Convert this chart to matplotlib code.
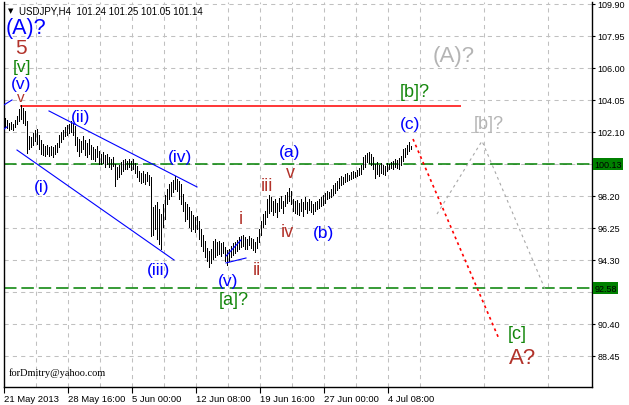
import matplotlib
matplotlib.use("Agg")
import matplotlib.pyplot as plt
import matplotlib.transforms as mtransforms

plt.rcParams['font.family'] = ['Liberation Sans', 'DejaVu Sans']
plt.rcParams['lines.scale_dashes'] = False

# H4 bars (high / low)
highs = [102.95, 102.83, 102.65, 102.71, 102.59, 102.83, 103.08, 103.50, 103.75, 103.56,
         103.38, 102.77, 101.86, 101.80, 102.04, 102.22, 102.28, 101.92, 101.61, 101.37,
         101.25, 101.31, 101.19, 101.25, 101.19, 101.31, 101.43, 101.92, 102.10, 102.22,
         102.41, 102.53, 102.59, 102.77, 102.65, 102.47, 101.80, 101.67, 101.55, 101.86,
         101.61, 101.43, 101.67, 101.31, 101.19, 101.07, 101.25, 100.94, 100.76, 100.88,
         100.70, 100.76, 100.58, 100.46, 100.58, 100.15, 99.97, 100.09, 100.27, 100.39,
         100.46, 100.33, 100.46, 100.33, 100.46, 100.21, 100.03, 99.72, 99.60, 99.72,
         99.54, 99.66, 99.48, 99.36, 97.53, 97.65, 97.84, 97.41, 97.10, 97.71,
         98.26, 98.63, 98.93, 99.05, 99.18, 99.42, 99.24, 99.12, 98.93, 98.32,
         97.84, 97.71, 97.53, 97.29, 97.04, 96.92, 96.98, 96.68, 96.19, 95.82,
         95.46, 95.03, 94.85, 94.97, 95.46, 95.58, 95.40, 95.46, 95.34, 95.40,
         95.09, 94.91, 94.97, 95.15, 95.34, 95.40, 95.52, 95.70, 95.76, 95.82,
         95.70, 95.58, 95.76, 95.64, 95.58, 95.40, 95.70, 96.19, 96.68, 97.10,
         97.29, 98.02, 98.26, 98.14, 97.90, 98.02, 97.77, 98.08, 98.20, 97.90,
         98.26, 98.44, 98.69, 98.51, 98.02, 97.90, 97.96, 97.77, 98.02, 97.84,
         98.14, 97.84, 98.02, 97.90, 97.71, 97.84, 97.90, 98.02, 98.14, 98.26,
         98.38, 98.51, 98.44, 98.63, 98.87, 98.99, 99.12, 99.30, 99.42, 99.36,
         99.54, 99.60, 99.48, 99.66, 99.72, 99.66, 99.79, 99.91, 100.09, 100.58,
         100.70, 100.82, 100.88, 100.76, 100.58, 100.15, 100.27, 100.09, 100.21, 100.09,
         100.03, 100.21, 100.15, 100.27, 100.33, 100.46, 100.39, 100.52, 100.64, 101.07,
         101.13, 101.31, 101.49, 101.25]
lows = [102.41, 102.34, 102.22, 102.28, 102.22, 102.41, 102.59, 102.77, 102.89, 102.65,
        102.53, 100.82, 101.07, 101.19, 101.31, 101.55, 101.37, 101.07, 100.76, 100.70,
        100.64, 100.76, 100.64, 100.70, 100.58, 100.76, 100.88, 101.19, 101.49, 101.67,
        101.86, 101.92, 102.04, 102.10, 101.92, 101.31, 100.94, 100.64, 100.88, 101.07,
        100.70, 100.58, 100.76, 100.46, 100.46, 100.33, 100.58, 100.15, 100.15, 100.21,
        99.97, 100.15, 99.97, 99.85, 100.03, 98.81, 99.24, 99.36, 99.54, 99.72,
        99.85, 99.85, 99.97, 99.79, 99.85, 99.60, 99.36, 99.12, 98.99, 99.05,
        98.93, 99.12, 98.87, 95.76, 95.82, 96.19, 95.58, 95.28, 94.97, 96.31,
        96.80, 97.71, 98.02, 98.20, 98.44, 98.63, 98.51, 98.02, 97.71, 97.29,
        96.68, 96.80, 96.31, 96.07, 96.19, 96.01, 96.19, 95.58, 95.15, 94.85,
        94.48, 94.24, 93.87, 94.12, 94.36, 94.48, 94.61, 94.67, 94.54, 94.73,
        94.24, 94.00, 94.24, 94.48, 94.61, 94.73, 94.85, 94.97, 95.09, 95.15,
        94.97, 94.97, 95.22, 95.03, 94.91, 94.79, 95.03, 95.40, 95.82, 96.31,
        96.49, 96.92, 97.17, 97.29, 97.04, 97.23, 96.92, 97.29, 97.47, 97.17,
        97.59, 97.77, 97.90, 97.71, 97.29, 97.17, 97.10, 97.04, 97.29, 96.98,
        97.41, 97.17, 97.35, 97.23, 97.10, 97.29, 97.41, 97.47, 97.59, 97.65,
        97.77, 98.02, 98.08, 98.14, 98.26, 98.38, 98.57, 98.69, 98.87, 98.93,
        99.05, 99.12, 99.18, 99.24, 99.30, 99.36, 99.42, 99.48, 99.54, 99.85,
        99.97, 100.27, 100.21, 100.09, 99.85, 99.30, 99.54, 99.42, 99.60, 99.54,
        99.48, 99.72, 99.85, 99.91, 99.85, 99.97, 99.91, 99.85, 100.09, 100.33,
        100.58, 100.76, 100.94, 101.05]

date_labels = ["21 May 2013", "28 May 16:00", "5 Jun 00:00", "12 Jun 08:00",
               "19 Jun 16:00", "27 Jun 00:00", "4 Jul 08:00"]
date_pos = [0, 32, 64, 96, 128, 160, 192]
price_ticks = [88.45, 90.40, 92.35, 94.30, 96.25, 98.20, 100.15, 102.10,
               104.05, 106.00, 107.95, 109.90]
green_levels = [100.13, 92.58]
red_level = 103.71
red_span = [8, 228.5]

# trend lines drawn on the chart (bar index, price)
upper_channel = ([22.5, 96.5], [103.38, 98.75])
lower_channel = ([6.5, 85], [101.00, 94.30])
edge_lines = [([0, 4], [103.75, 104.05]), ([0, 1.5], [102.28, 102.41])]
wedge_lines = [([111, 118.5], [94.54, 95.52]), ([111, 121], [94.12, 94.42])]
red_path = ([204.5, 247.5], [101.67, 89.49])
gray_path = ([216.5, 239, 270.5], [97.10, 101.55, 92.53])

blue = "#0000ff"
brown = "#b2322a"
green = "#13860b"
gray = "#b4b4b4"
labels = [
    ("(A)?", 11, 108.45, blue, 15.5),
    ("5", 8.5, 107.22, brown, 15),
    ("[v]", 9, 106.12, green, 12.5),
    ("(v)", 8.5, 105.05, blue, 12.5),
    ("v", 8.5, 104.22, brown, 11),
    ("(i)", 19, 98.75, blue, 12.5),
    ("(ii)", 38.5, 103.02, blue, 12.5),
    ("(iii)", 77.5, 93.69, blue, 12.5),
    ("(iv)", 88, 100.58, blue, 12.5),
    ("(v)", 112, 93.08, blue, 12.5),
    ("[a]?", 115, 91.92, green, 13),
    ("i", 118.5, 96.80, brown, 13),
    ("ii", 126.5, 93.75, brown, 13),
    ("iii", 131.5, 98.81, brown, 13),
    ("iv", 141.5, 96.01, brown, 13),
    ("v", 143, 99.64, brown, 13),
    ("(a)", 143, 100.94, blue, 12.5),
    ("(b)", 159.5, 95.95, blue, 12.5),
    ("(c)", 203, 102.59, blue, 12.5),
    ("[b]?", 205.5, 104.54, green, 13),
    ("[b]?", 242.5, 102.59, gray, 13),
    ("(A)?", 225, 106.79, gray, 16),
    ("[c]", 256.5, 89.85, green, 13),
    ("A?", 259.5, 88.33, brown, 16),
]

fig = plt.figure(figsize=(6.29, 4.06), dpi=100)
ax = fig.add_axes([4 / 629, 18 / 406, 588 / 629, 385 / 406])

# grid
ax.set_xticks(date_pos)
ax.set_xticks(range(16, 294, 32), minor=True)
ax.set_yticks(price_ticks)
ax.grid(which='both', color='#c0c0c0', linestyle=(0, (3, 3)), linewidth=0.75)
ax.set_axisbelow(True)

# bars
xs = [i + 0.5 for i in range(len(highs))]
ax.vlines(xs, lows, highs, colors='black', linewidth=0.7, antialiased=False, zorder=3)

# levels
for lvl in green_levels:
    ax.axhline(lvl, color='#008000', linewidth=1.1, dashes=(9, 3.5), zorder=2)
ax.hlines(red_level, red_span[0], red_span[1], color='red', linewidth=1.1, zorder=2)

# trend lines
for xx, yy in [upper_channel, lower_channel] + edge_lines + wedge_lines:
    ax.plot(xx, yy, color='#0000ff', linewidth=0.8, zorder=4)
ax.plot(red_path[0], red_path[1], color='red', linewidth=1.2, dashes=(2, 2.5), zorder=4)
ax.plot(gray_path[0], gray_path[1], color='#a8a8a8', linewidth=0.8, dashes=(2, 2.5), zorder=4)

# wave labels
for txt, lx, ly, col, sz in labels:
    ax.text(lx, ly, txt, color=col, fontsize=sz, ha='center', va='center', zorder=5)

# axes setup
ax.set_xlim(0, 294)
ax.set_ylim(86.56, 110.02)
ax.yaxis.tick_right()
# labels under the green price boxes are hidden, as in the terminal
covered = [100.15, 92.35]
ax.set_yticklabels(["" if p in covered else f"{p:.2f}" for p in price_ticks])
ax.set_xticklabels(date_labels)
shift = mtransforms.ScaledTranslation(1.5 / 100, 0, fig.dpi_scale_trans)
for lbl in ax.get_xticklabels():
    lbl.set_ha('left')
    lbl.set_transform(lbl.get_transform() + shift)
ax.tick_params(axis='y', which='major', direction='out', length=2.5, pad=1.5, labelsize=6.5)
ax.tick_params(axis='x', which='major', direction='out', length=4, pad=1, labelsize=6.8)
ax.tick_params(which='minor', length=0)
ax.spines['top'].set_visible(False)
for s in ['left', 'right', 'bottom']:
    ax.spines[s].set_linewidth(1.0)

# price boxes on the right
for lvl in green_levels:
    ax.text(1.004, lvl, f"{lvl:.2f}", transform=ax.get_yaxis_transform(),
            ha='left', va='center', fontsize=6.5, color='black',
            bbox=dict(boxstyle='square,pad=0.15', fc='#008000', ec='none'))

# header and footer
fig.text(11 / 629, 1 - 11 / 406, "\u25bc", fontsize=5, va='center', ha='center',
         family='DejaVu Sans')
fig.text(19 / 629, 1 - 11 / 406, "USDJPY,H4  101.24 101.25 101.05 101.14",
         fontsize=7, va='center')
fig.text(9 / 629, 1 - 373 / 406, "forDmitry@yahoo.com", fontsize=7.5, va='center',
         family='Liberation Serif')

fig.savefig("out.png", dpi=100)
